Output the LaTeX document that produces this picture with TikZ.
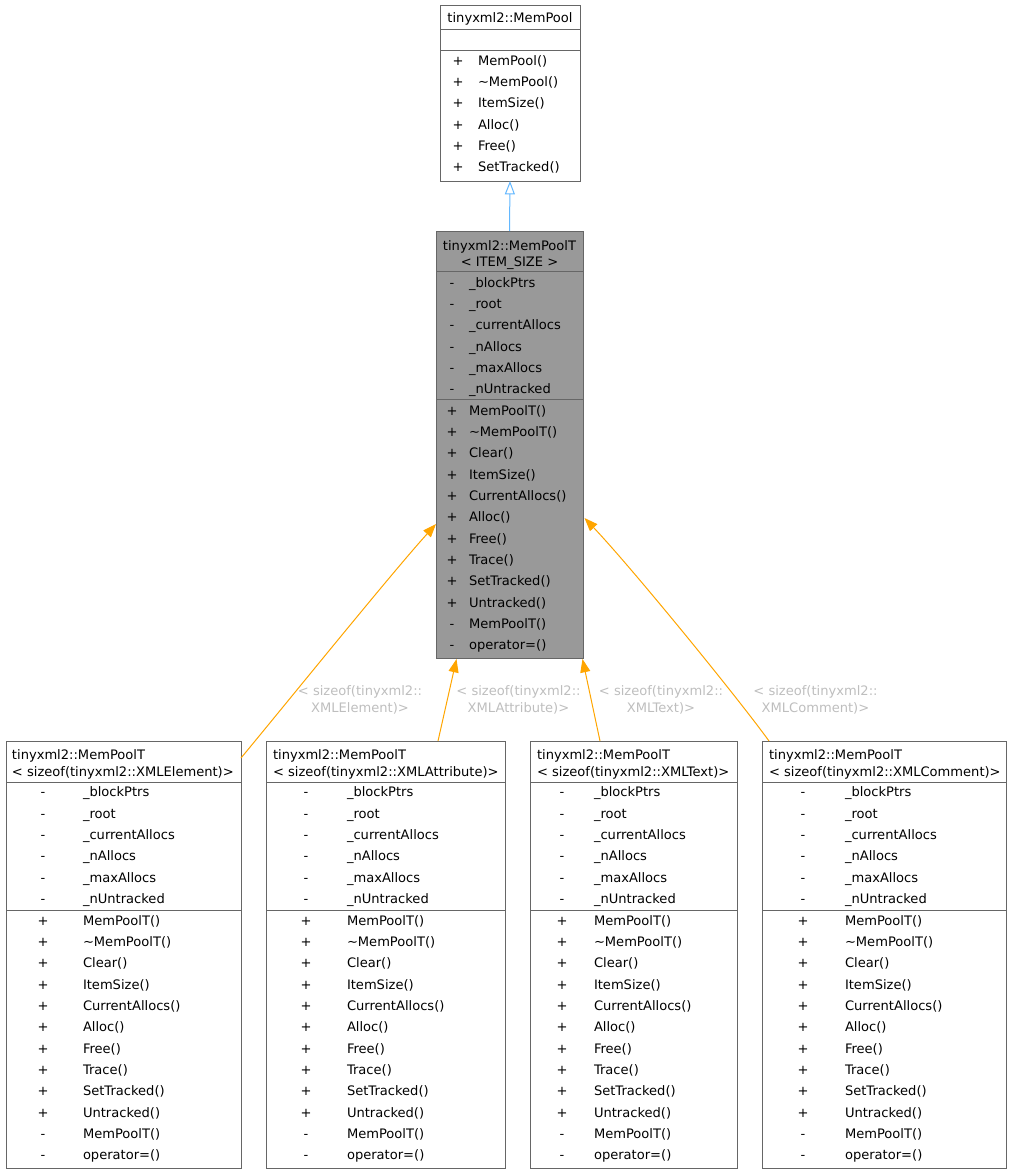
\documentclass[tikz,border=0pt]{standalone}
\usepackage{fontspec}
\setmainfont{DejaVu Sans}
\usetikzlibrary{arrows.meta,fit}
\definecolor{bordergray}{HTML}{666666}
\definecolor{fillgray}{HTML}{999999}
\definecolor{edgeorange}{HTML}{FFA500}
\definecolor{edgeblue}{HTML}{63B8FF}
\definecolor{labelgray}{HTML}{BEBEBE}
\begin{document}
\begin{tikzpicture}[x=0.75pt,y=-0.75pt,
  boxframe/.style={draw=bordergray, line width=0.75pt, inner sep=0pt, outer sep=0pt},
  sepline/.style={draw=bordergray, line width=0.75pt},
  rowtext/.style={font=\fontsize{9.8pt}{12pt}\selectfont, text height=7.2pt, text depth=0pt, inner sep=0pt, outer sep=0pt},
  edgelabel/.style={font=\fontsize{9.8pt}{12.75pt}\selectfont, text=labelgray, align=center, inner sep=0pt},
  derived/.style={draw=edgeorange, line width=0.75pt, -{Triangle[length=10pt,width=7.5pt,fill=edgeorange]}},
  inherit/.style={draw=edgeblue, line width=0.75pt, -{Triangle[open,length=10pt,width=7.5pt,fill=white]}}
]
\useasboundingbox (0,0) rectangle (1013,1174);

% ---------- top class: tinyxml2::MemPool ----------
\node[boxframe, fill=white, fit={(440,5) (580,181)}] (memPool) {};
\draw[sepline] (440,29) -- (580,29);
\draw[sepline] (440,50) -- (580,50);
\node[rowtext] (memPoolTitle) at (510,18) {tinyxml2::MemPool};
\foreach \nm [count=\k from 0] in {MemPool(),\textasciitilde MemPool(),ItemSize(),Alloc(),Free(),SetTracked()}{
  \node[rowtext] (mp-v\k) at (458,60.5+21.3*\k) {+};
  \node[rowtext, anchor=west] (mp-n\k) at (478,60.5+21.3*\k) {\nm};
}

% ---------- middle class: tinyxml2::MemPoolT< ITEM_SIZE > ----------
\node[boxframe, fill=fillgray, fit={(436,231) (583,658)}] (memT) {};
\draw[sepline] (436,271) -- (583,271);
\draw[sepline] (436,399.5) -- (583,399.5);
\node[rowtext] (memTTitleA) at (509.5,246) {tinyxml2::MemPoolT};
\node[rowtext] (memTTitleB) at (509.5,262) {< ITEM\_SIZE >};
\foreach \nm [count=\k from 0] in {\_blockPtrs,\_root,\_currentAllocs,\_nAllocs,\_maxAllocs,\_nUntracked}{
  \node[rowtext] (mt-av\k) at (452,282.3+21.3*\k) {-};
  \node[rowtext, anchor=west] (mt-an\k) at (469,282.3+21.3*\k) {\nm};
}
\foreach \v/\nm [count=\k from 0] in {+/MemPoolT(),+/\textasciitilde MemPoolT(),+/Clear(),+/ItemSize(),+/CurrentAllocs(),+/Alloc(),+/Free(),+/Trace(),+/SetTracked(),+/Untracked(),-/MemPoolT(),-/operator=()}{
  \node[rowtext] (mt-mv\k) at (452,410.5+21.3*\k) {\v};
  \node[rowtext, anchor=west] (mt-mn\k) at (469,410.5+21.3*\k) {\nm};
}

% ---------- bottom classes ----------
\foreach \L/\R/\V/\N/\T/\nm/\typ in {6/241/43/83/12/bElem/XMLElement,266/505/306/347/273/bAttr/XMLAttribute,530/737/562/594/537/bText/XMLText,762/1006/803/845/769/bComm/XMLComment}{
  \node[boxframe, fill=white, fit={(\L,741) (\R,1168)}] (\nm) {};
  \draw[sepline] (\L,782) -- (\R,782);
  \draw[sepline] (\L,910) -- (\R,910);
  \node[rowtext, anchor=west] (\nm-ta) at (\T,755) {tinyxml2::MemPoolT};
  \node[rowtext, anchor=west] (\nm-tb) at (\T,771.5) {< sizeof(tinyxml2::\typ)>};
  \foreach \an [count=\k from 0] in {\_blockPtrs,\_root,\_currentAllocs,\_nAllocs,\_maxAllocs,\_nUntracked}{
    \node[rowtext] (\nm-av\k) at (\V,792+21.3*\k) {-};
    \node[rowtext, anchor=west] (\nm-an\k) at (\N,792+21.3*\k) {\an};
  }
  \foreach \v/\mn [count=\k from 0] in {+/MemPoolT(),+/\textasciitilde MemPoolT(),+/Clear(),+/ItemSize(),+/CurrentAllocs(),+/Alloc(),+/Free(),+/Trace(),+/SetTracked(),+/Untracked(),-/MemPoolT(),-/operator=()}{
    \node[rowtext] (\nm-mv\k) at (\V,920.5+21.3*\k) {\v};
    \node[rowtext, anchor=west] (\nm-mn\k) at (\N,920.5+21.3*\k) {\mn};
  }
}

% ---------- connectors ----------
\draw[inherit] (memT.north) -- (memPool.south);

\coordinate (eElemS) at (241,758);
\coordinate (eElemT) at (436,524);
\coordinate (eAttrS) at (438,741);
\coordinate (eAttrT) at (456.5,659);
\coordinate (eTextS) at (600,741);
\coordinate (eTextT) at (582.5,659);
\coordinate (eCommS) at (769,741);
\coordinate (eCommT) at (584.5,518);

\draw[derived] (eElemS) .. controls (285,705) and (390,575) .. (eElemT);
\draw[derived] (eAttrS) -- (eAttrT);
\draw[derived] (eTextS) -- (eTextT);
\draw[derived] (eCommS) .. controls (738,698) and (632,568) .. (eCommT);

\node[edgelabel] (lElem) at (360,700) {< sizeof(tinyxml2::\\XMLElement)>};
\node[edgelabel] (lAttr) at (518.5,700) {< sizeof(tinyxml2::\\XMLAttribute)>};
\node[edgelabel] (lText) at (661,700) {< sizeof(tinyxml2::\\XMLText)>};
\node[edgelabel] (lComm) at (815.5,700) {< sizeof(tinyxml2::\\XMLComment)>};
\end{tikzpicture}
\end{document}
